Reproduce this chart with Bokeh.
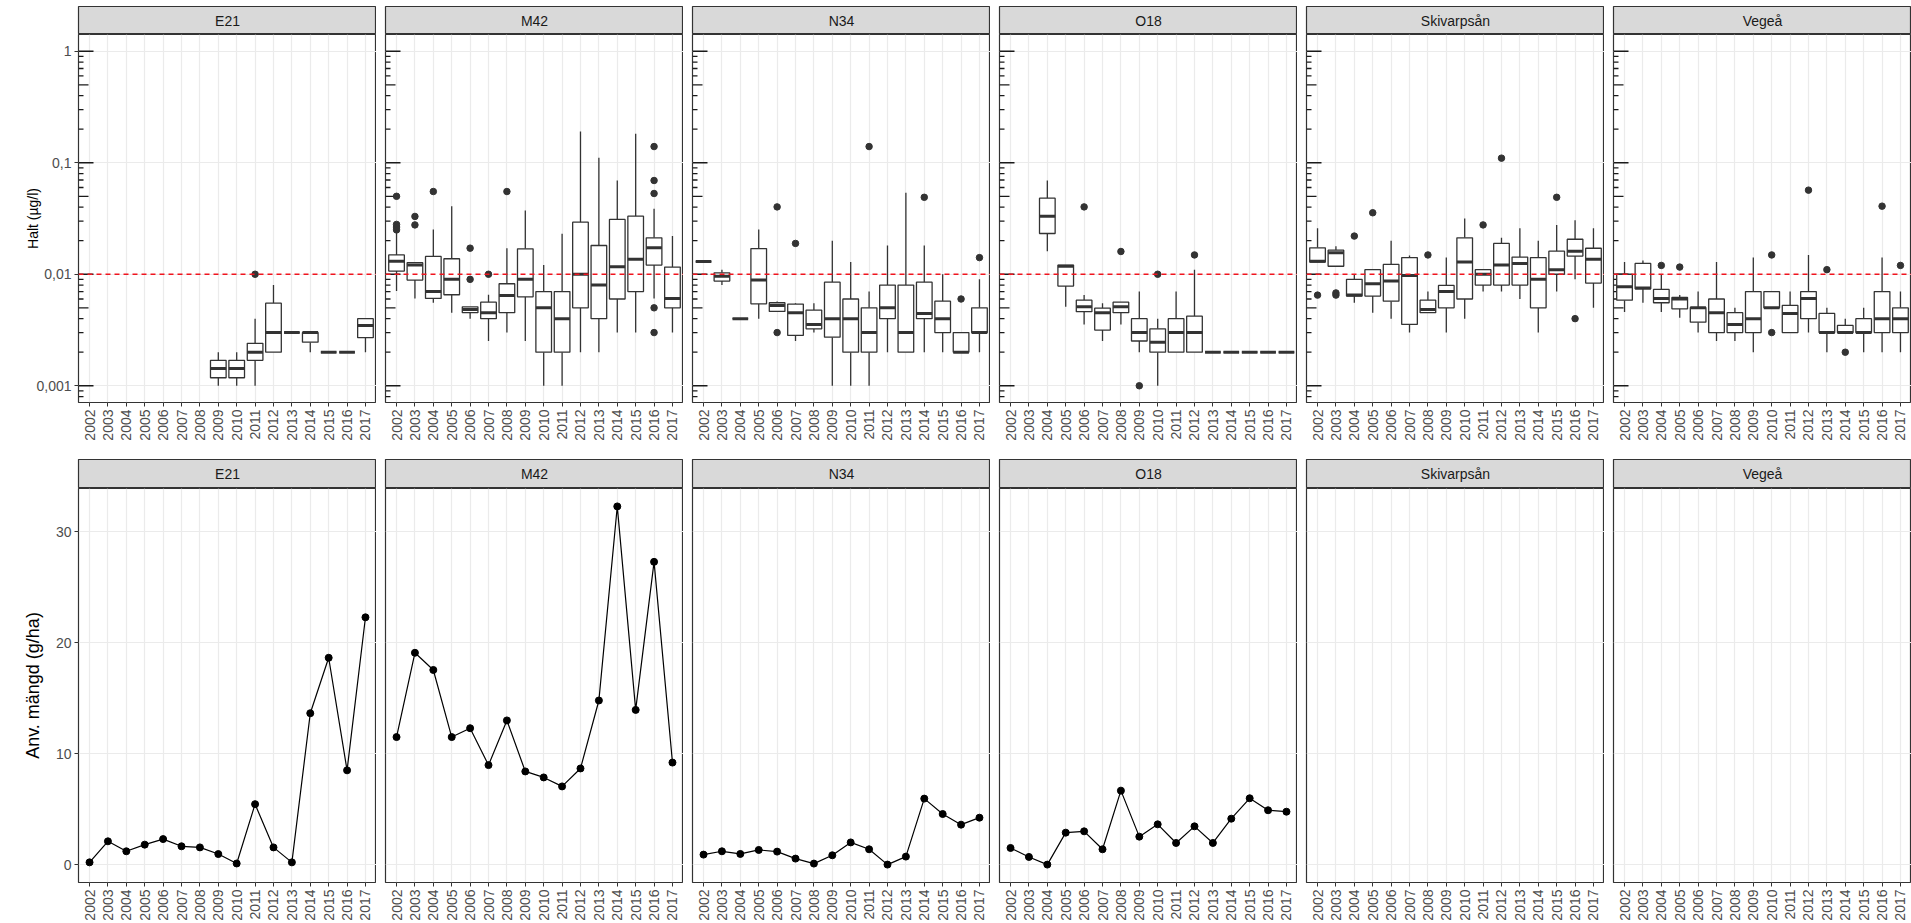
import math
from bokeh.plotting import figure
from bokeh.layouts import column, row
from bokeh.models import Range1d, FixedTicker, Span, ColumnDataSource
from bokeh.core.properties import value
from bokeh.embed import file_html
from bokeh.resources import INLINE

FONT = "Liberation Sans"

# ---------------- data ----------------
stations = ["E21", "M42", "N34", "O18", "Skivarpsån", "Vegeå"]
years = list(range(2002, 2018))
year_labels = [str(y) for y in years]
conc_ticks = [0.001, 0.01, 0.1, 1]
conc_tick_labels = ["0,001", "0,01", "0,1", "1"]
use_ticks = [0, 10, 20, 30]
use_tick_labels = ["0", "10", "20", "30"]
guide_value = 0.01
conc_title = "Halt (µg/l)"
use_title = "Anv. mängd (g/ha)"

# boxplot stats per year: (year, lower whisker, q1, median, q3, upper whisker)
box_E21 = [
    (2009, 0.001, 0.00118, 0.00143, 0.00169, 0.002),
    (2010, 0.001, 0.00118, 0.00143, 0.00169, 0.002),
    (2011, 0.001, 0.00169, 0.002, 0.0024, 0.004),
    (2012, 0.002, 0.002, 0.003, 0.0055, 0.008),
    (2013, 0.003, 0.003, 0.003, 0.003, 0.003),
    (2014, 0.002, 0.00246, 0.003, 0.003, 0.003),
    (2015, 0.002, 0.002, 0.002, 0.002, 0.002),
    (2016, 0.002, 0.002, 0.002, 0.002, 0.002),
    (2017, 0.002, 0.0027, 0.00348, 0.004, 0.004),
]
out_E21 = [(2011, 0.01)]

box_M42 = [
    (2002, 0.00706, 0.01067, 0.0131, 0.0149, 0.0235),
    (2003, 0.00607, 0.00886, 0.0121, 0.0127, 0.0127),
    (2004, 0.00555, 0.00607, 0.007, 0.01445, 0.0252),
    (2005, 0.00452, 0.00655, 0.009, 0.01377, 0.0408),
    (2006, 0.004, 0.00452, 0.00483, 0.0051, 0.0051),
    (2007, 0.00252, 0.004, 0.00452, 0.00562, 0.00655),
    (2008, 0.003, 0.00452, 0.00646, 0.00822, 0.0171),
    (2009, 0.00252, 0.00628, 0.009, 0.0169, 0.0373),
    (2010, 0.001, 0.002, 0.005, 0.007, 0.0121),
    (2011, 0.001, 0.002, 0.004, 0.007, 0.0231),
    (2012, 0.002, 0.005, 0.01, 0.0293, 0.1905),
    (2013, 0.002, 0.004, 0.008, 0.0181, 0.1106),
    (2014, 0.003, 0.006, 0.01167, 0.031, 0.0693),
    (2015, 0.003, 0.007, 0.0136, 0.0332, 0.1815),
    (2016, 0.00607, 0.0121, 0.01726, 0.0212, 0.0386),
    (2017, 0.003, 0.005, 0.00607, 0.0116, 0.022),
]
out_M42 = [(2002, 0.025), (2002, 0.0265), (2002, 0.028), (2002, 0.05),
           (2003, 0.0277), (2003, 0.033), (2004, 0.0552),
           (2006, 0.009), (2006, 0.01714), (2007, 0.01), (2008, 0.0552),
           (2016, 0.003), (2016, 0.005), (2016, 0.053), (2016, 0.0693), (2016, 0.1397)]

box_N34 = [
    (2002, 0.013, 0.013, 0.013, 0.013, 0.013),
    (2003, 0.008, 0.00868, 0.0096, 0.0103, 0.011),
    (2004, 0.004, 0.004, 0.004, 0.004, 0.004),
    (2005, 0.004, 0.00543, 0.00886, 0.017, 0.0252),
    (2006, 0.00464, 0.00464, 0.00525, 0.00555, 0.0057),
    (2007, 0.00252, 0.00283, 0.00452, 0.0054, 0.0055),
    (2008, 0.003, 0.00324, 0.00355, 0.00477, 0.0055),
    (2009, 0.001, 0.00273, 0.004, 0.0085, 0.02),
    (2010, 0.001, 0.002, 0.004, 0.006, 0.0129),
    (2011, 0.001, 0.002, 0.003, 0.005, 0.007),
    (2012, 0.002, 0.004, 0.005, 0.008, 0.0181),
    (2013, 0.002, 0.002, 0.003, 0.008, 0.0537),
    (2014, 0.002, 0.004, 0.00445, 0.0085, 0.0181),
    (2015, 0.002, 0.003, 0.004, 0.00574, 0.01),
    (2016, 0.002, 0.002, 0.002, 0.003, 0.003),
    (2017, 0.002, 0.003, 0.003, 0.005, 0.009),
]
out_N34 = [(2006, 0.003), (2006, 0.0402), (2007, 0.0189), (2011, 0.1397),
           (2014, 0.049), (2016, 0.006), (2017, 0.0141)]

box_O18 = [
    (2004, 0.0161, 0.0232, 0.0332, 0.0481, 0.0693),
    (2005, 0.0051, 0.00783, 0.0118, 0.0121, 0.0121),
    (2006, 0.00355, 0.00462, 0.0051, 0.00586, 0.0065),
    (2007, 0.00252, 0.00316, 0.00452, 0.00496, 0.0055),
    (2008, 0.00355, 0.00452, 0.0051, 0.00562, 0.00562),
    (2009, 0.002, 0.00252, 0.003, 0.004, 0.007),
    (2010, 0.001, 0.002, 0.00246, 0.00324, 0.004),
    (2011, 0.002, 0.002, 0.003, 0.004, 0.007),
    (2012, 0.002, 0.002, 0.003, 0.00421, 0.011),
    (2013, 0.002, 0.002, 0.002, 0.002, 0.002),
    (2014, 0.002, 0.002, 0.002, 0.002, 0.002),
    (2015, 0.002, 0.002, 0.002, 0.002, 0.002),
    (2016, 0.002, 0.002, 0.002, 0.002, 0.002),
    (2017, 0.002, 0.002, 0.002, 0.002, 0.002),
]
out_O18 = [(2006, 0.0402), (2008, 0.016), (2009, 0.001), (2010, 0.01), (2012, 0.0149)]

box_Skiv = [
    (2002, 0.01285, 0.01285, 0.0131, 0.01726, 0.0259),
    (2003, 0.0118, 0.0118, 0.01556, 0.01645, 0.01787),
    (2004, 0.00555, 0.00637, 0.0065, 0.009, 0.01),
    (2005, 0.00452, 0.00637, 0.00822, 0.011, 0.011),
    (2006, 0.004, 0.00574, 0.00868, 0.01225, 0.02),
    (2007, 0.003, 0.00355, 0.00976, 0.0141, 0.0147),
    (2008, 0.00452, 0.00452, 0.00483, 0.00586, 0.007),
    (2009, 0.003, 0.005, 0.007, 0.00794, 0.0141),
    (2010, 0.004, 0.006, 0.0129, 0.0212, 0.0316),
    (2011, 0.007, 0.008, 0.01, 0.011, 0.011),
    (2012, 0.007, 0.008, 0.0121, 0.0189, 0.0212),
    (2013, 0.006, 0.008, 0.0125, 0.01425, 0.0259),
    (2014, 0.003, 0.005, 0.009, 0.0141, 0.02),
    (2015, 0.007, 0.01, 0.011, 0.0161, 0.0277),
    (2016, 0.009, 0.01455, 0.0161, 0.0206, 0.0305),
    (2017, 0.005, 0.00833, 0.0136, 0.0171, 0.0259),
]
out_Skiv = [(2002, 0.0065), (2003, 0.0065), (2003, 0.0068), (2004, 0.022),
            (2005, 0.0356), (2008, 0.0149), (2011, 0.0277), (2012, 0.11),
            (2015, 0.049), (2016, 0.004)]

box_Vege = [
    (2002, 0.00458, 0.00586, 0.00773, 0.01, 0.01285),
    (2003, 0.00555, 0.0074, 0.00753, 0.0125, 0.0133),
    (2004, 0.00458, 0.00555, 0.00607, 0.00731, 0.01),
    (2005, 0.00408, 0.0049, 0.006, 0.0062, 0.0065),
    (2006, 0.003, 0.00372, 0.005, 0.00503, 0.007),
    (2007, 0.00252, 0.003, 0.00452, 0.006, 0.0129),
    (2008, 0.00252, 0.003, 0.00355, 0.00452, 0.005),
    (2009, 0.002, 0.003, 0.004, 0.007, 0.0141),
    (2010, 0.005, 0.005, 0.005, 0.007, 0.007),
    (2011, 0.003, 0.003, 0.00445, 0.00525, 0.007),
    (2012, 0.003, 0.004, 0.00607, 0.007, 0.0149),
    (2013, 0.002, 0.003, 0.003, 0.00445, 0.005),
    (2014, 0.003, 0.003, 0.003, 0.00348, 0.004),
    (2015, 0.002, 0.003, 0.003, 0.004, 0.005),
    (2016, 0.002, 0.003, 0.004, 0.007, 0.0141),
    (2017, 0.002, 0.003, 0.004, 0.005, 0.007),
]
out_Vege = [(2004, 0.012), (2005, 0.0116), (2010, 0.003), (2010, 0.0149),
            (2012, 0.0568), (2013, 0.011), (2014, 0.002), (2016, 0.0408), (2017, 0.012)]

# applied amount (g/ha) per year 2002..2017
use_E21 = [0.2, 2.1, 1.2, 1.8, 2.3, 1.65, 1.55, 0.95, 0.1, 5.45, 1.55, 0.2, 13.65, 18.65, 8.5, 22.3]
use_M42 = [11.5, 19.1, 17.55, 11.5, 12.3, 8.97, 13.0, 8.4, 7.86, 7.05, 8.67, 14.8, 32.3, 13.95, 27.3, 9.2]
use_N34 = [0.9, 1.2, 0.96, 1.32, 1.17, 0.54, 0.09, 0.84, 2.0, 1.38, 0.0, 0.72, 5.95, 4.56, 3.6, 4.23]
use_O18 = [1.5, 0.69, 0.0, 2.88, 3.0, 1.38, 6.67, 2.52, 3.63, 1.95, 3.45, 1.95, 4.14, 5.98, 4.9, 4.77]
use_Skiv = []
use_Vege = []

boxes = [box_E21, box_M42, box_N34, box_O18, box_Skiv, box_Vege]
outliers = [out_E21, out_M42, out_N34, out_O18, out_Skiv, out_Vege]
uses = [use_E21, use_M42, use_N34, use_O18, use_Skiv, use_Vege]

# ---------------- layout / style ----------------
LEFT = 78
GAP = 9
PW = 298
TOP_STRIP_H, TOP_STRIP_PAD = 28, 6
TOP_FRAME_H, TOP_BOTTOM = 368, 57
BOT_STRIP_H = 29
BOT_FRAME_H, BOT_BOTTOM = 394, 41

GRID = "#EBEBEB"
DARK = "#333333"
TICK_TXT = "#4D4D4D"
BOX_W = 0.85
XPAD = 0.6
TICK_FS = "14px"


def strip(label, i, pad_top, h):
    lb = LEFT if i == 0 else GAP
    p = figure(width=lb + PW, height=pad_top + h, x_range=Range1d(0, 1), y_range=Range1d(0, 1),
               toolbar_location=None, output_backend="svg", title=None,
               x_axis_location=None, y_axis_location=None,
               min_border_left=lb, min_border_right=0, min_border_top=pad_top, min_border_bottom=0)
    p.grid.visible = False
    p.background_fill_color = "#D9D9D9"
    p.border_fill_color = "white"
    p.outline_line_color = DARK
    p.outline_line_width = 1.2
    p.text(x=[0.5], y=[0.5], text=[label], text_align="center", text_baseline="middle",
           text_font=value(FONT), text_font_size="14px", text_color="#1A1A1A")
    return p


def style_x(p):
    ax = p.xaxis[0]
    ax.ticker = FixedTicker(ticks=years)
    ax.major_label_overrides = {y: s for y, s in zip(years, year_labels)}
    ax.major_label_orientation = math.pi / 2
    ax.major_label_text_font = FONT
    ax.major_label_text_font_size = TICK_FS
    ax.major_label_text_color = TICK_TXT
    ax.major_label_standoff = 3
    ax.major_tick_in = 0
    ax.major_tick_out = 4
    ax.major_tick_line_color = DARK
    ax.minor_tick_line_color = None
    ax.axis_line_color = None
    p.xgrid.ticker = FixedTicker(ticks=years)
    p.xgrid.grid_line_color = GRID
    p.xgrid.grid_line_width = 1.2


def style_y(ax, title, size, standoff):
    ax.major_label_text_font = FONT
    ax.major_label_text_font_size = TICK_FS
    ax.major_label_text_color = TICK_TXT
    ax.major_label_standoff = 3
    ax.major_tick_in = 0
    ax.major_tick_out = 4
    ax.major_tick_line_color = DARK
    ax.minor_tick_line_color = None
    ax.axis_line_color = None
    ax.axis_label = title
    ax.axis_label_text_font = FONT
    ax.axis_label_text_font_size = size
    ax.axis_label_text_font_style = "normal"
    ax.axis_label_text_color = "black"
    ax.axis_label_standoff = standoff


ymin_log, ymax_log = 10 ** -3.15, 10 ** 0.15
logtick_vals, logtick_lens = [], []
for e in range(-4, 1):
    for k in range(1, 10):
        v = k * 10.0 ** e
        if ymin_log <= v <= ymax_log:
            logtick_vals.append(v)
            logtick_lens.append(15 if k == 1 else (10 if k == 5 else 5))


def base_panel(i, frame_h, bottom, y_range, y_type):
    lb = LEFT if i == 0 else GAP
    p = figure(width=lb + PW, height=frame_h + bottom,
               x_range=Range1d(years[0] - XPAD, years[-1] + XPAD),
               y_range=y_range, y_axis_type=y_type,
               y_axis_location="left" if i == 0 else None,
               toolbar_location=None, output_backend="svg", title=None,
               min_border_left=lb, min_border_right=0, min_border_top=0, min_border_bottom=bottom)
    p.background_fill_color = "white"
    p.border_fill_color = "white"
    p.outline_line_color = DARK
    p.outline_line_width = 1.2
    style_x(p)
    p.ygrid.grid_line_color = GRID
    p.ygrid.grid_line_width = 1.2
    return p


def top_panel(i):
    p = base_panel(i, TOP_FRAME_H, TOP_BOTTOM, Range1d(ymin_log, ymax_log), "log")
    p.ygrid.ticker = FixedTicker(ticks=conc_ticks)
    if i == 0:
        ax = p.yaxis[0]
        ax.ticker = FixedTicker(ticks=conc_ticks)
        ax.major_label_overrides = {t: s for t, s in zip(conc_ticks, conc_tick_labels)}
        style_y(ax, conc_title, "14px", -8)

    # log ticks annotation (left edge, inside the panel)
    p.ray(x=[years[0] - XPAD] * len(logtick_vals), y=logtick_vals, length=logtick_lens,
          angle=0, length_units="screen", line_color="#1A1A1A", line_width=1.3)

    b = boxes[i]
    if b:
        src = ColumnDataSource(dict(
            x=[r[0] for r in b], lo=[r[1] for r in b], q1=[r[2] for r in b],
            med=[r[3] for r in b], q3=[r[4] for r in b], hi=[r[5] for r in b],
            x0=[r[0] - BOX_W / 2 for r in b], x1=[r[0] + BOX_W / 2 for r in b]))
        p.segment(x0="x", y0="lo", x1="x", y1="q1", source=src, line_color=DARK, line_width=1.3)
        p.segment(x0="x", y0="q3", x1="x", y1="hi", source=src, line_color=DARK, line_width=1.3)
        p.vbar(x="x", width=BOX_W, bottom="q1", top="q3", source=src,
               fill_color="white", line_color=DARK, line_width=1.3)
        p.segment(x0="x0", y0="med", x1="x1", y1="med", source=src, line_color=DARK, line_width=3)
    o = outliers[i]
    if o:
        p.scatter(x=[r[0] for r in o], y=[r[1] for r in o], size=6.5, fill_color=DARK, line_color=DARK)
    p.add_layout(Span(location=guide_value, dimension="width", line_color="#F0141E",
                      line_dash="5 4", line_width=1.4))
    return p


def bottom_panel(i):
    p = base_panel(i, BOT_FRAME_H, BOT_BOTTOM, Range1d(-1.615, 33.915), "linear")
    p.ygrid.ticker = FixedTicker(ticks=use_ticks)
    if i == 0:
        ax = p.yaxis[0]
        ax.ticker = FixedTicker(ticks=use_ticks)
        ax.major_label_overrides = {t: s for t, s in zip(use_ticks, use_tick_labels)}
        style_y(ax, use_title, "18px", 10)
    u = uses[i]
    if u:
        p.line(x=years, y=u, line_color="black", line_width=1.2)
        p.scatter(x=years, y=u, size=7, fill_color="black", line_color="black")
    return p


top_strips = row([strip(s, i, TOP_STRIP_PAD, TOP_STRIP_H) for i, s in enumerate(stations)])
top_panels = row([top_panel(i) for i in range(6)])
bot_strips = row([strip(s, i, 0, BOT_STRIP_H) for i, s in enumerate(stations)])
bot_panels = row([bottom_panel(i) for i in range(6)])

layout = column([top_strips, top_panels, bot_strips, bot_panels])

open("out.html", "w").write(file_html(layout, INLINE))
